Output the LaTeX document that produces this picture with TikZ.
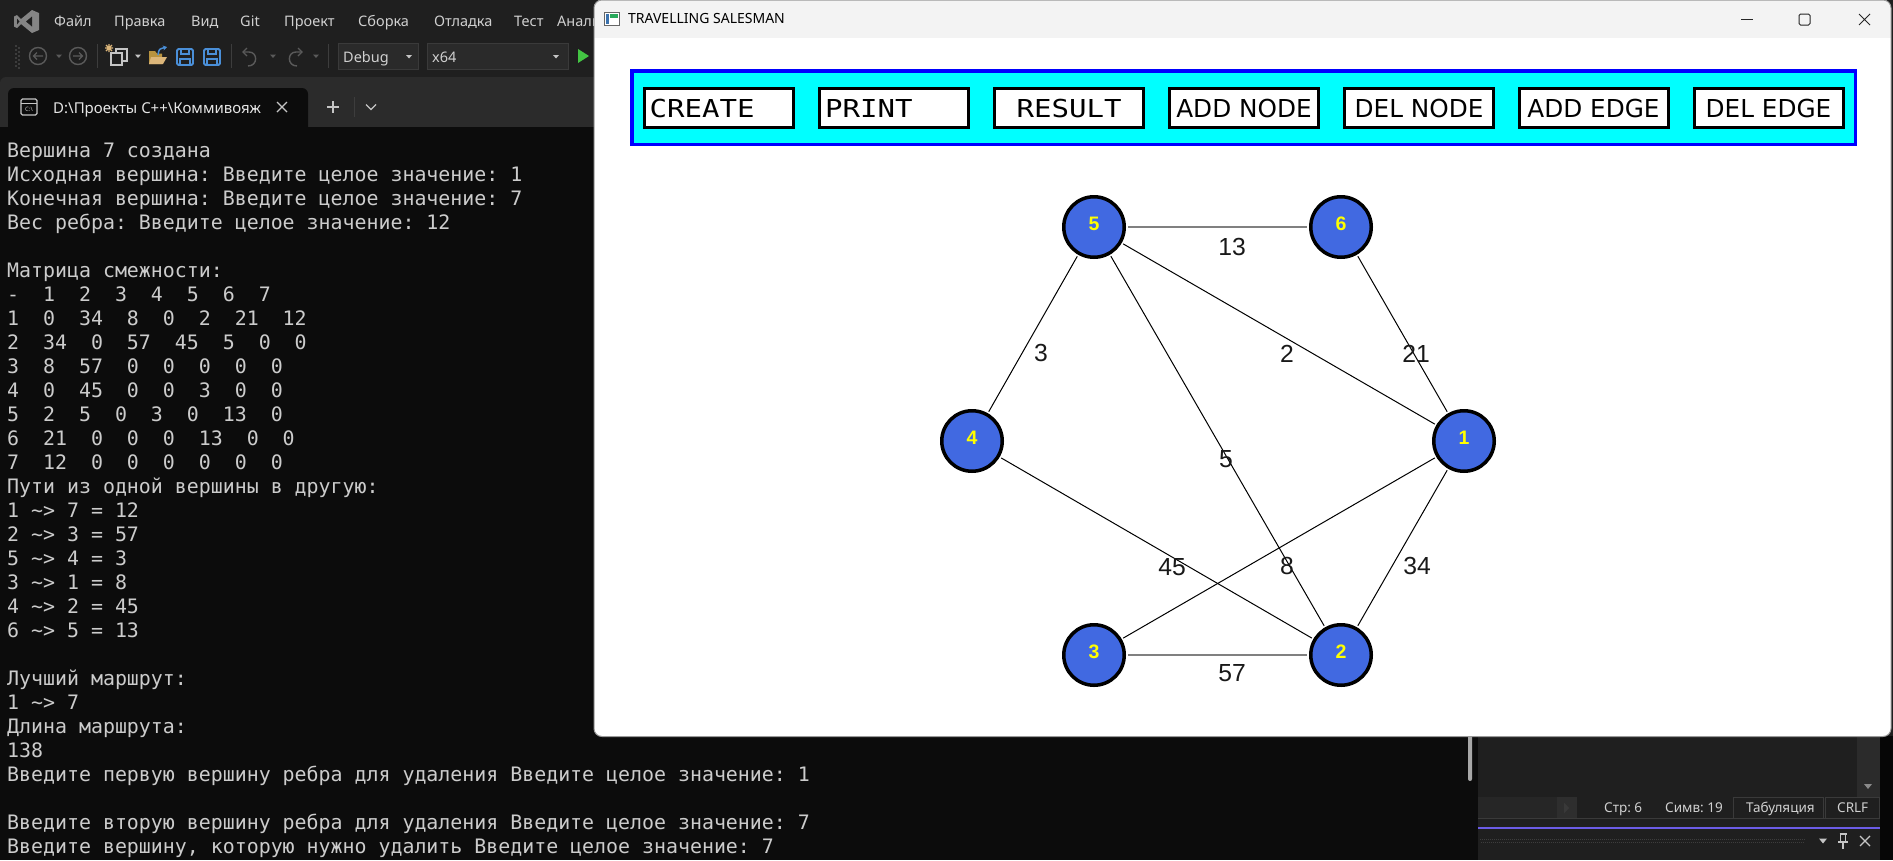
\documentclass[tikz,border=0pt]{standalone}
\usepackage{fontspec}
\usetikzlibrary{arrows.meta}
\setmainfont{Noto Sans}
\newfontfamily\uifont{Noto Sans}
\newfontfamily\consolefont{DejaVu Sans Mono}
\newfontfamily\btnmono{DejaVu Sans Mono}[FakeStretch=1.177]
\newfontfamily\btnsans{DejaVu Sans}
\newfontfamily\arialfont{Liberation Sans}
\newcommand\tld{\char"7E\relax}
\frenchspacing
\definecolor{vsbg}{HTML}{1F1F1F}
\definecolor{tabwell}{HTML}{2B2B2B}
\definecolor{consolebg}{HTML}{0C0C0C}
\definecolor{consoletxt}{HTML}{CCCCCC}
\definecolor{menutxt}{HTML}{D0D0D0}
\definecolor{dimicon}{HTML}{5A5A5A}
\definecolor{lighticon}{HTML}{C5C5C5}
\definecolor{sepcol}{HTML}{3D3D3D}
\definecolor{boxbg}{HTML}{2A2A2A}
\definecolor{boxborder}{HTML}{3A3A3A}
\definecolor{folderyellow}{HTML}{DCB67A}
\definecolor{folderdark}{HTML}{B8933F}
\definecolor{saveblue}{HTML}{4A8FD8}
\definecolor{playgreen}{HTML}{43C443}
\definecolor{titlebg}{HTML}{F3F3F3}
\definecolor{winborder}{HTML}{9A9A9A}
\definecolor{panelcyan}{HTML}{00FFFF}
\definecolor{panelblue}{HTML}{0000FF}
\definecolor{vertexfill}{HTML}{4169E1}
\definecolor{vertexlabel}{HTML}{FFFF00}
\definecolor{hedgecol}{HTML}{808080}
\definecolor{vslogo}{HTML}{858585}
\definecolor{statlight}{HTML}{262626}
\definecolor{statbox}{HTML}{2E2E2E}
\definecolor{purpleline}{HTML}{6B5CE6}
\definecolor{scrollthumb}{HTML}{A8A8A8}
\tikzset{
  menuitem/.style={anchor=base west, inner sep=0pt, text=menutxt, font=\uifont\fontsize{14.5}{18}\selectfont},
  tbtxt/.style={anchor=base west, inner sep=0pt, text=menutxt, font=\uifont\fontsize{14.5}{18}\selectfont},
  contxt/.style={anchor=base west, inner sep=0pt, text=consoletxt, font=\consolefont\fontsize{19.9}{24}\selectfont\frenchspacing},
  stattxt/.style={anchor=base west, inner sep=0pt, text=menutxt, font=\uifont\fontsize{13.5}{16}\selectfont},
  btn/.style={draw=black, line width=3pt, fill=white, minimum width=149pt, minimum height=39pt, inner sep=0pt,
              text height=18pt, text depth=0pt, font=\btnsans\fontsize{24.7}{28}\selectfont},
  btnmonotxt/.style={anchor=base west, inner sep=0pt, font=\btnmono\fontsize{24.7}{28}\selectfont},
  vertex/.style={circle, draw=black, line width=3.5pt, fill=vertexfill, minimum size=60.5pt, inner sep=0pt,
                 text=vertexlabel, font=\arialfont\bfseries\fontsize{19.5}{20}\selectfont, text height=14pt, text depth=7pt},
  elabel/.style={inner sep=0pt, text=black!90, font=\arialfont\fontsize{24.7}{26}\selectfont},
  gedge/.style={draw=black, line width=1pt, shorten <=1.75pt, shorten >=1.75pt},
  hedge/.style={draw=hedgecol, line width=1.8pt, shorten <=1.75pt, shorten >=1.75pt},
  sepline/.style={draw=sepcol, line width=1pt},
  dimline/.style={draw=dimicon, line width=1.4pt},
}
\begin{document}
\begin{tikzpicture}[x=1pt,y=-1pt]
\useasboundingbox (0,0) rectangle (1893,860);
% ---------- VS background ----------
\fill[vsbg] (0,0) rectangle (1893,860);
\fill[tabwell, rounded corners=6pt] (0,77) rectangle (640,150);
\fill[consolebg] (0,127) rectangle (1478,860);
\fill[consolebg, rounded corners=6pt] (8,88) rectangle (308,150);
% VS logo
\fill[vslogo] (32,10) -- (39,13) -- (39,30) -- (32,33) -- (21,24) -- (17,28) -- (14,26.5) -- (14,16.5) -- (17,15) -- (21,19) -- cycle;
\fill[vsbg] (32,16.5) -- (26,21.5) -- (32,26.5) -- cycle;
\fill[vsbg] (17,18.5) -- (19.5,21.5) -- (17,24.5) -- cycle;
% menu
\node[menuitem] (m1) at (54,26.7) {Файл};
\node[menuitem] (m2) at (114,26.7) {Правка};
\node[menuitem] (m3) at (191,26.7) {Вид};
\node[menuitem] (m4) at (240,26.7) {Git};
\node[menuitem] (m5) at (284,26.7) {Проект};
\node[menuitem] (m6) at (358,26.7) {Сборка};
\node[menuitem] (m7) at (434,26.7) {Отладка};
\node[menuitem] (m8) at (514,26.7) {Тест};
\node[menuitem] (m9) at (557,26.7) {Анализ};
% toolbar
\foreach \yy in {46,50,...,66} {\fill[dimicon] (16,\yy) circle (0.8); \fill[dimicon] (19,\yy+2) circle (0.8);}
\draw[dimline] (38,56) circle (8.5);
\draw[dimline] (43,56) -- (33.5,56) (37,52.5) -- (33.5,56) -- (37,59.5);
\fill[dimicon] (56,54.5) -- (62,54.5) -- (59,58) -- cycle;
\draw[dimline] (78,56) circle (8.5);
\draw[dimline] (73,56) -- (82.5,56) (79,52.5) -- (82.5,56) -- (79,59.5);
\draw[sepline] (97,44) -- (97,68);
\draw[lighticon, line width=1.2pt, fill=vsbg] (116,49) rectangle (127,61);
\draw[lighticon, line width=1.2pt, fill=vsbg] (111,53) rectangle (122,65);
\draw[folderyellow, line width=1.1pt] (105,48) -- (113,48) (109,44) -- (109,52) (106,45) -- (112,51) (112,45) -- (106,51);
\fill[lighticon] (135,54.5) -- (141,54.5) -- (138,58) -- cycle;
\fill[folderdark] (149,51) -- (155,51) -- (157,53.5) -- (162,53.5) -- (162,64) -- (149,64) -- cycle;
\fill[folderyellow] (151,57) -- (167,57) -- (163,64) -- (149,64) -- cycle;
\draw[saveblue, line width=1.5pt, -{Stealth[length=4pt,width=5pt]}] (158,55) .. controls (159,49) .. (167,47);
\draw[saveblue, line width=1.8pt, rounded corners=1.5pt] (177,49) rectangle (193,65);
\draw[saveblue, line width=1.5pt] (181,49) -- (181,54) -- (189,54) -- (189,49);
\draw[saveblue, line width=1.5pt] (180,65) -- (180,59) -- (190,59) -- (190,65);
\begin{scope}[xshift=27pt]
\draw[saveblue, line width=1.8pt, rounded corners=1.5pt] (177,49) rectangle (193,65);
\draw[saveblue, line width=1.5pt] (181,49) -- (181,54) -- (189,54) -- (189,49);
\draw[saveblue, line width=1.5pt] (180,65) -- (180,59) -- (190,59) -- (190,65);
\end{scope}
\draw[sepline] (231,44) -- (231,68);
\draw[dimline] (243,52) -- (249,52) .. controls (258,52) and (258,66) .. (248,66);
\draw[dimline] (247,48) -- (243,52) -- (247,56);
\fill[dimicon] (270,54.5) -- (276,54.5) -- (273,58) -- cycle;
\draw[dimline] (302,52) -- (296,52) .. controls (287,52) and (287,66) .. (297,66);
\draw[dimline] (298,48) -- (302,52) -- (298,56);
\fill[dimicon] (313,54.5) -- (319,54.5) -- (316,58) -- cycle;
\draw[sepline] (328,44) -- (328,68);
\draw[boxborder, fill=boxbg] (338,43) rectangle (418,69);
\node[tbtxt] (dbg) at (343,62.5) {Debug};
\fill[lighticon] (406,55) -- (412,55) -- (409,58.5) -- cycle;
\draw[boxborder, fill=boxbg] (427,43) rectangle (568,69);
\node[tbtxt] (x64) at (432,62.5) {x64};
\fill[lighticon] (553,55) -- (559,55) -- (556,58.5) -- cycle;
\fill[playgreen] (578,49) -- (578,63) -- (589,56) -- cycle;
% tab
\draw[lighticon, line width=1.2pt, rounded corners=1.5pt] (21,99) rectangle (37,115);
\draw[lighticon, line width=1pt] (21,103) -- (37,103);
\node[inner sep=0pt, text=lighticon, font=\uifont\fontsize{6}{7}\selectfont] (tabicon) at (29,109.5) {C:\textbackslash};
\begin{scope}
\clip (40,85) rectangle (262,127);
\node[anchor=base west, inner sep=0pt, text=white!90!black, font=\uifont\fontsize{15}{18}\selectfont] (tabtitle) at (53,113) {D:\textbackslash Проекты C++\textbackslash Коммивояж};
\end{scope}
\draw[lighticon, line width=1.3pt] (277,102) -- (287,112) (287,102) -- (277,112);
\draw[lighticon, line width=1.3pt] (327,107) -- (339,107) (333,101) -- (333,113);
\draw[sepline] (354,97) -- (354,117);
\draw[lighticon, line width=1.3pt] (366,104.5) -- (371,109.5) -- (376,104.5);
% ---------- console ----------
\node[contxt] (c0) at (7,157) {Вершина 7 создана};
\node[contxt] (c1) at (7,181) {Исходная вершина: Введите целое значение: 1};
\node[contxt] (c2) at (7,205) {Конечная вершина: Введите целое значение: 7};
\node[contxt] (c3) at (7,229) {Вес ребра: Введите целое значение: 12};
\node[contxt] (c5) at (7,277) {Матрица смежности:};
\node[contxt] (c6) at (7,301) {-~~1~~2~~3~~4~~5~~6~~7};
\node[contxt] (c7) at (7,325) {1~~0~~34~~8~~0~~2~~21~~12};
\node[contxt] (c8) at (7,349) {2~~34~~0~~57~~45~~5~~0~~0};
\node[contxt] (c9) at (7,373) {3~~8~~57~~0~~0~~0~~0~~0};
\node[contxt] (c10) at (7,397) {4~~0~~45~~0~~0~~3~~0~~0};
\node[contxt] (c11) at (7,421) {5~~2~~5~~0~~3~~0~~13~~0};
\node[contxt] (c12) at (7,445) {6~~21~~0~~0~~0~~13~~0~~0};
\node[contxt] (c13) at (7,469) {7~~12~~0~~0~~0~~0~~0~~0};
\node[contxt] (c14) at (7,493) {Пути из одной вершины в другую:};
\node[contxt] (c15) at (7,517) {1 \tld> 7 = 12};
\node[contxt] (c16) at (7,541) {2 \tld> 3 = 57};
\node[contxt] (c17) at (7,565) {5 \tld> 4 = 3};
\node[contxt] (c18) at (7,589) {3 \tld> 1 = 8};
\node[contxt] (c19) at (7,613) {4 \tld> 2 = 45};
\node[contxt] (c20) at (7,637) {6 \tld> 5 = 13};
\node[contxt] (c22) at (7,685) {Лучший маршрут:};
\node[contxt] (c23) at (7,709) {1 \tld> 7};
\node[contxt] (c24) at (7,733) {Длина маршрута:};
\node[contxt] (c25) at (7,757) {138};
\node[contxt] (c26) at (7,781) {Введите первую вершину ребра для удаления Введите целое значение: 1};
\node[contxt] (c28) at (7,829) {Введите вторую вершину ребра для удаления Введите целое значение: 7};
\node[contxt] (c29) at (7,853) {Введите вершину, которую нужно удалить Введите целое значение: 7};
\fill[scrollthumb, rounded corners=2pt] (1468,700) rectangle (1472,781);
% ---------- right VS panel ----------
\fill[vsbg] (1478,736) rectangle (1893,860);
\fill[tabwell] (1857,736) rectangle (1880,797);
\fill[lighticon!70!black] (1864,784) -- (1872,784) -- (1868,789) -- cycle;
\fill[statlight] (1478,797) rectangle (1557,818);
\fill[statbox] (1557,797) rectangle (1577,818);
\fill[dimicon!120] (1564,802.5) -- (1564,813.5) -- (1569,808) -- cycle;
\draw[boxborder, fill=vsbg] (1733,797.5) rectangle (1823,818);
\draw[boxborder, fill=vsbg] (1825,797.5) rectangle (1879,818);
\draw[boxborder] (1478,818.5) -- (1880,818.5);
\node[stattxt] (s1) at (1604,812.7) {Стр: 6};
\node[stattxt] (s2) at (1665,812.7) {Симв: 19};
\node[stattxt] (s3) at (1746,812.7) {Табуляция};
\node[stattxt] (s4) at (1837,812.7) {CRLF};
\fill[black!80!vsbg] (1880,736) rectangle (1893,860);
\draw[purpleline, line width=2.5pt] (1478,828) -- (1880,828);
\draw[sepcol, line width=1pt, dash pattern=on 1pt off 1pt] (1480,839) -- (1805,839);
\draw[sepcol, line width=1pt, dash pattern=on 1pt off 1pt] (1481,842) -- (1805,842);
\fill[lighticon] (1819,838.5) -- (1827,838.5) -- (1823,843.5) -- cycle;
\draw[lighticon, line width=1.3pt] (1840.5,834) -- (1840.5,842) (1845.5,834) -- (1845.5,842) (1839.5,834) -- (1846.5,834) (1838,842) -- (1848,842) (1843,842) -- (1843,849);
\draw[lighticon, line width=1.3pt] (1860,836) -- (1870,846) (1870,836) -- (1860,846);
% ---------- dialog window ----------
\begin{scope}
\clip[rounded corners=8pt] (594,0) rectangle (1891,736.5);
\fill[white] (594,0) rectangle (1891,736.5);
\fill[titlebg] (594,0) rectangle (1891,38);
\end{scope}
\draw[winborder, line width=1pt, rounded corners=8pt] (594,0) rectangle (1891,736.5);
\draw[black!60, line width=1pt, fill=white] (604,12) rectangle (619,25);
\fill[saveblue!80!black] (605.5,13.5) rectangle (609,23.5);
\fill[playgreen!60!teal] (610,13.5) rectangle (617.5,17.5);
\node[anchor=base west, inner sep=0pt, text=black, font=\uifont\fontsize{14}{16}\selectfont] (title) at (628,23.3) {TRAVELLING SALESMAN};
\draw[black!85, line width=1pt] (1741,19) -- (1753,19);
\draw[black!85, line width=1pt, rounded corners=1.5pt] (1799,14) rectangle (1810,25);
\draw[black!85, line width=1pt] (1859,14) -- (1870,25) (1870,14) -- (1859,25);
% toolbar panel
\draw[panelblue, line width=3.5pt, fill=panelcyan] (631.75,70.75) rectangle (1855.25,144.25);
\node[btn] (bcreate) at (719,108) {};
\node[btn] (bprint) at (894,108) {};
\node[btn] (bresult) at (1069,108) {};
\node[btn] (baddnode) at (1244,108) {ADD NODE};
\node[btn] (bdelnode) at (1419,108) {DEL NODE};
\node[btn] (baddedge) at (1593.5,108) {ADD EDGE};
\node[btn] (bdeledge) at (1768.5,108) {DEL EDGE};
\node[btnmonotxt] (tcreate) at (649.5,117) {CREATE};
\node[btnmonotxt] (tprint) at (825,117) {PRINT};
\node[btnmonotxt, anchor=base] (tresult) at (1069,117) {RESULT};
% graph
\node[vertex] (n1) at (1464,441) {1};
\node[vertex] (n2) at (1341,655) {2};
\node[vertex] (n3) at (1094,655) {3};
\node[vertex] (n4) at (972,441) {4};
\node[vertex] (n5) at (1094,227) {5};
\node[vertex] (n6) at (1341,227) {6};
\draw[hedge] (n5) -- (n6);
\draw[hedge] (n3) -- (n2);
\draw[gedge] (n5) -- (n4);
\draw[gedge] (n5) -- (n1);
\draw[gedge] (n5) -- (n2);
\draw[gedge] (n6) -- (n1);
\draw[gedge] (n4) -- (n2);
\draw[gedge] (n3) -- (n1);
\draw[gedge] (n1) -- (n2);
\node[elabel] (l13) at (1232,247) {13};
\node[elabel] (l3) at (1041,353) {3};
\node[elabel] (l2) at (1287,354) {2};
\node[elabel] (l21) at (1416,354) {21};
\node[elabel] (l5) at (1226,459) {5};
\node[elabel] (l45) at (1172,567) {45};
\node[elabel] (l8) at (1287,566) {8};
\node[elabel] (l34) at (1417,566) {34};
\node[elabel] (l57) at (1232,673) {57};
\end{tikzpicture}
\end{document}
